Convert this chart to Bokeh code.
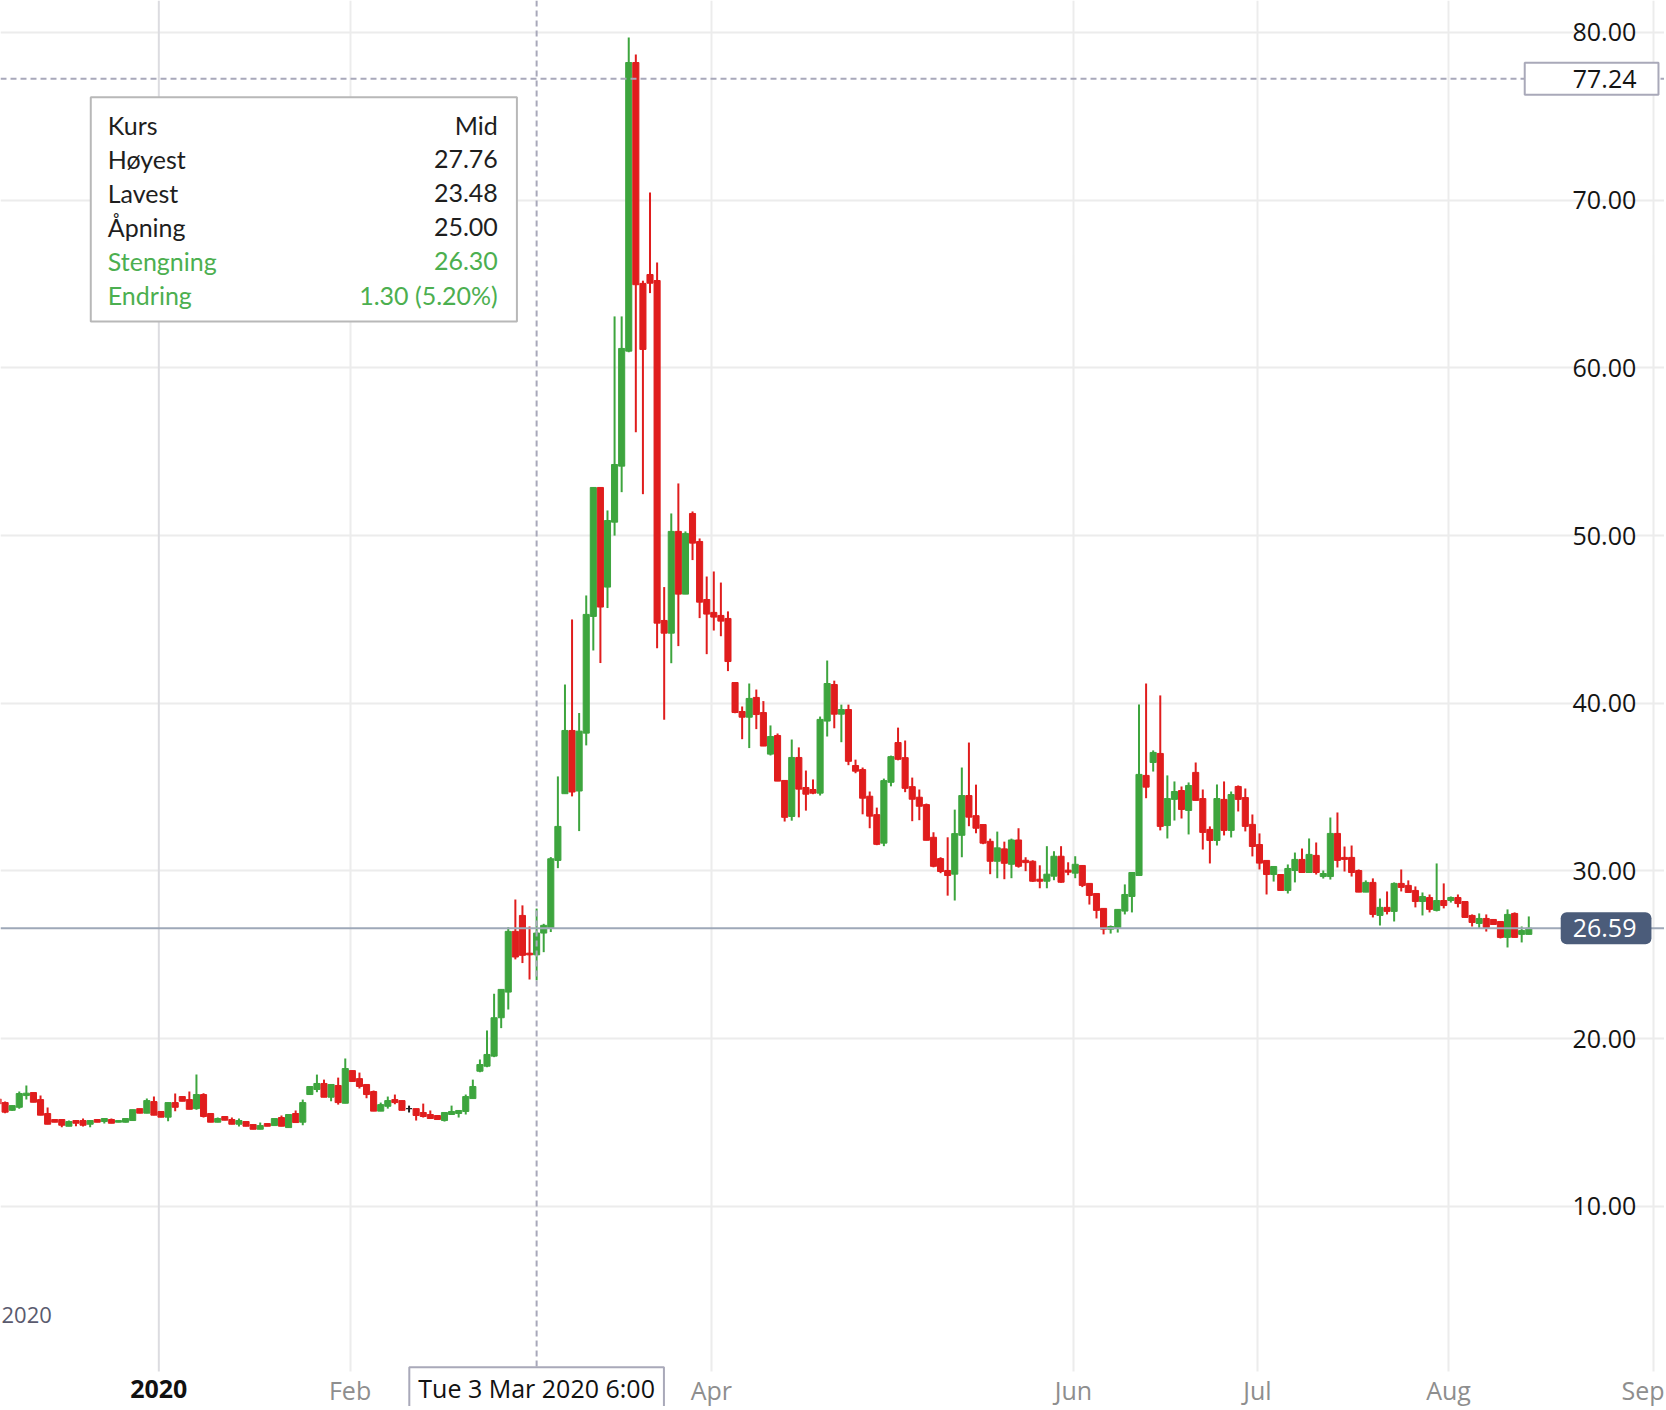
from bokeh.plotting import figure
from bokeh.models import (FixedTicker, Span, Label, LabelSet, BoxAnnotation, LinearAxis,
                          ColumnDataSource, Range1d, NumeralTickFormatter)
from bokeh.core.properties import value, field
from bokeh.embed import file_html
from bokeh.resources import INLINE

# ---------------- data (daily candles, Mid price) ----------------
opens = [16.41,
    16.19, 15.73, 15.91, 16.61, 16.79, 16.37, 15.54, 15.18, 15.18, 14.78,
    15.12, 15.12, 14.90, 15.18, 15.06, 15.18, 15.02, 15.02, 15.12, 15.83,
    15.56, 16.25, 15.66, 15.32, 16.19, 16.55, 16.37, 15.83, 16.67, 15.54,
    15.02, 15.36, 15.18, 14.90, 15.06, 14.88, 14.60, 14.94, 14.82, 15.30,
    14.70, 15.54, 15.02, 16.67, 16.97, 17.33, 16.51, 17.21, 16.15, 18.10,
    17.62, 17.27, 16.85, 15.68, 15.97, 16.37, 16.31, 15.83, 15.83, 15.60,
    15.48, 15.42, 15.12, 15.48, 15.54, 15.66, 16.43, 18.06, 18.36, 18.96,
    21.25, 22.78, 26.40, 27.35, 25.10, 25.00, 26.30, 26.60, 30.63, 34.61,
    38.38, 34.77, 38.22, 45.18, 52.87, 46.93, 50.80, 54.14, 61.00, 78.21,
    65.04, 65.57, 65.21, 44.94, 44.18, 50.25, 46.51, 51.32, 49.65, 46.19,
    45.42, 45.24, 45.06, 41.24, 39.51, 39.17, 40.35, 39.45, 36.97, 38.08,
    35.40, 33.25, 36.77, 34.98, 34.86, 34.64, 38.94, 41.12, 39.35, 39.63,
    36.29, 36.05, 34.46, 33.36, 31.66, 35.29, 37.66, 36.76, 35.03, 34.40,
    33.96, 32.01, 30.74, 30.03, 29.81, 32.13, 34.50, 33.30, 32.77, 31.77,
    30.58, 31.32, 30.40, 31.85, 30.64, 30.58, 29.51, 29.39, 29.69, 30.88,
    30.05, 29.87, 30.33, 29.26, 28.66, 27.77, 26.53, 26.61, 27.61, 28.48,
    29.73, 35.70, 36.47, 37.01, 32.71, 34.27, 34.80, 33.61, 35.88, 34.32,
    32.48, 31.82, 34.27, 32.42, 35.04, 34.38, 32.78, 31.58, 30.63, 29.79,
    29.79, 28.84, 30.03, 30.69, 29.91, 30.93, 29.67, 29.67, 32.24, 30.81,
    30.81, 30.03, 28.74, 29.32, 27.35, 27.83, 27.59, 29.26, 29.14, 28.84,
    28.18, 28.42, 27.65, 28.24, 28.24, 28.42, 28.18, 27.35, 26.87, 27.17,
    27.11, 26.99, 26.04, 27.47, 26.22, 26.22]

highs = [16.45,
    16.25, 16.01, 16.85, 17.21, 16.79, 16.61, 15.89, 15.18, 15.18, 15.12,
    15.12, 15.24, 15.12, 15.18, 15.24, 15.24, 15.12, 15.24, 15.77, 15.83,
    16.43, 16.55, 15.66, 16.19, 16.73, 16.55, 16.85, 17.86, 16.75, 15.54,
    15.30, 15.36, 15.30, 15.24, 15.06, 14.88, 15.00, 14.94, 15.24, 15.42,
    15.48, 15.72, 16.37, 17.15, 17.86, 17.56, 17.27, 17.68, 18.82, 18.10,
    17.98, 17.27, 16.91, 16.19, 16.55, 16.67, 16.31, 16.01, 15.83, 16.13,
    15.72, 15.42, 15.60, 16.01, 15.72, 16.67, 17.56, 18.76, 20.49, 22.68,
    22.94, 26.65, 28.30, 27.95, 26.69, 27.76, 26.85, 30.83, 35.64, 41.12,
    45.00, 39.42, 46.43, 52.87, 52.87, 51.50, 63.07, 63.07, 79.70, 78.69,
    65.20, 70.46, 66.29, 46.93, 51.32, 53.11, 50.25, 51.44, 49.83, 47.56,
    47.86, 47.20, 45.48, 41.24, 39.81, 41.18, 40.82, 40.13, 38.68, 38.20,
    35.40, 37.84, 37.37, 35.99, 35.46, 39.21, 42.55, 41.35, 39.92, 39.92,
    36.64, 36.17, 34.74, 33.78, 35.51, 36.88, 38.55, 37.78, 35.57, 34.86,
    34.02, 32.31, 30.82, 32.01, 33.66, 36.17, 37.66, 35.15, 32.77, 31.93,
    32.35, 31.75, 31.93, 32.55, 30.82, 30.64, 30.34, 31.48, 31.18, 31.48,
    30.52, 30.88, 30.34, 29.26, 28.66, 27.77, 26.75, 27.71, 29.20, 29.91,
    39.93, 41.18, 37.19, 40.47, 35.70, 35.34, 35.04, 35.28, 36.47, 34.86,
    32.66, 35.16, 35.34, 34.74, 35.10, 34.92, 33.37, 32.24, 30.63, 30.27,
    29.79, 30.39, 31.10, 31.34, 31.94, 31.70, 30.03, 33.19, 33.49, 31.46,
    31.52, 30.09, 29.44, 29.56, 28.36, 28.78, 29.32, 30.09, 29.44, 29.08,
    28.72, 28.60, 30.45, 29.26, 28.48, 28.60, 28.18, 27.41, 27.47, 27.41,
    27.11, 26.99, 27.71, 27.53, 26.69, 27.29]

lows = [16.05,
    15.56, 15.70, 15.83, 16.37, 16.21, 15.44, 14.90, 15.02, 14.72, 14.78,
    14.78, 14.76, 14.72, 15.02, 14.94, 14.96, 15.02, 15.00, 15.10, 15.56,
    15.56, 15.44, 15.32, 15.08, 15.68, 16.27, 15.79, 15.77, 15.30, 15.02,
    15.02, 15.14, 14.90, 14.76, 14.78, 14.60, 14.60, 14.78, 14.82, 14.78,
    14.70, 15.00, 14.84, 16.67, 16.81, 16.51, 16.27, 16.07, 16.15, 17.45,
    17.03, 16.45, 15.68, 15.68, 15.83, 16.09, 15.73, 15.60, 15.12, 15.30,
    15.24, 15.18, 15.06, 15.48, 15.30, 15.48, 16.43, 18.00, 18.30, 18.90,
    20.63, 21.74, 24.73, 24.51, 23.53, 23.48, 25.16, 26.36, 30.17, 34.61,
    34.45, 32.38, 37.49, 43.15, 42.40, 45.68, 50.00, 52.59, 60.94, 56.17,
    52.47, 64.46, 43.29, 39.02, 42.39, 43.41, 46.51, 48.54, 45.08, 42.93,
    44.34, 44.00, 41.92, 39.41, 37.86, 37.33, 38.46, 37.45, 36.89, 35.36,
    32.95, 33.00, 33.20, 33.60, 34.58, 34.50, 38.02, 38.51, 37.68, 36.31,
    35.83, 33.38, 32.55, 31.54, 31.48, 35.05, 36.60, 34.70, 32.97, 33.03,
    31.83, 30.22, 29.87, 28.53, 28.24, 30.82, 32.67, 32.25, 31.60, 29.81,
    29.57, 29.51, 29.57, 30.20, 29.99, 29.35, 28.97, 28.97, 29.45, 29.30,
    29.75, 29.57, 29.04, 28.00, 27.17, 26.22, 26.27, 26.33, 27.41, 27.53,
    29.73, 34.34, 35.93, 32.42, 31.94, 33.01, 33.13, 32.18, 34.21, 31.28,
    30.45, 31.52, 32.12, 32.00, 33.55, 32.36, 30.87, 30.09, 28.60, 29.37,
    28.84, 28.66, 29.32, 29.91, 29.91, 29.79, 29.55, 29.49, 30.21, 29.97,
    29.67, 28.74, 28.74, 27.23, 26.75, 27.41, 26.99, 28.78, 28.72, 27.83,
    27.35, 27.53, 27.59, 27.77, 28.12, 27.83, 27.23, 26.69, 26.57, 26.39,
    26.81, 25.98, 25.44, 26.04, 25.74, 26.22]

closes = [16.11,
    15.62, 16.01, 16.73, 16.75, 16.21, 15.44, 14.90, 15.02, 14.84, 15.06,
    14.96, 14.84, 15.12, 15.02, 15.24, 14.96, 15.12, 15.24, 15.77, 15.56,
    16.31, 15.44, 15.32, 16.19, 15.91, 16.27, 15.79, 16.67, 15.36, 15.02,
    15.24, 15.14, 14.90, 15.12, 14.78, 14.60, 14.82, 14.78, 15.24, 14.78,
    15.48, 15.00, 16.19, 17.15, 17.33, 16.51, 17.27, 16.19, 18.22, 17.45,
    17.15, 16.67, 15.68, 16.07, 16.31, 16.19, 15.73, 15.83, 15.42, 15.36,
    15.24, 15.18, 15.60, 15.66, 15.72, 16.55, 17.15, 18.46, 19.06, 21.25,
    22.94, 26.40, 24.87, 24.97, 25.00, 26.30, 26.76, 30.73, 32.66, 38.38,
    34.71, 38.34, 45.30, 52.87, 45.74, 50.90, 54.24, 61.16, 78.21, 64.96,
    61.10, 65.05, 44.78, 44.18, 50.25, 46.51, 50.13, 49.55, 46.03, 45.32,
    45.14, 44.90, 42.49, 39.45, 39.17, 40.29, 39.33, 37.45, 38.02, 35.36,
    33.20, 36.77, 34.88, 34.58, 34.64, 39.04, 41.18, 39.35, 39.63, 36.54,
    35.95, 34.34, 33.27, 31.59, 35.39, 36.82, 36.66, 34.93, 34.28, 33.86,
    31.83, 30.28, 29.97, 29.73, 32.23, 34.50, 33.21, 32.55, 31.66, 30.58,
    31.38, 30.46, 31.85, 30.28, 30.50, 29.39, 29.39, 29.81, 30.88, 29.33,
    29.93, 30.40, 29.14, 28.54, 27.65, 26.53, 26.69, 27.71, 28.60, 29.91,
    35.76, 35.00, 37.07, 32.66, 34.32, 34.74, 33.67, 35.10, 34.21, 32.30,
    31.82, 34.32, 32.42, 34.56, 34.27, 32.66, 31.46, 30.47, 29.79, 30.27,
    28.84, 30.15, 30.69, 29.91, 30.99, 29.91, 29.85, 32.24, 30.63, 30.69,
    29.91, 28.74, 29.32, 27.41, 27.83, 27.59, 29.26, 29.02, 28.72, 28.18,
    28.48, 27.71, 28.24, 27.94, 28.42, 28.06, 27.23, 26.93, 27.17, 26.63,
    26.81, 26.04, 27.41, 26.04, 26.45, 26.59]

# month ticks (position on the trading-day axis) and labels
year_tick_pos = [22.69]
year_tick_labels = ["2020"]
x_tick_pos = [49.68, 100.65, 151.75, 177.72, 204.67, 233.59]
x_tick_labels = ["Feb", "Apr", "Jun", "Jul", "Aug", "Sep"]
y_ticks = [10, 20, 30, 40, 50, 60, 70, 80]

cursor_index = 76                # Tue 3 Mar 2020
cursor_label = "Tue 3 Mar 2020 6:00"
cursor_price = 77.24

tooltip_names = ["Kurs", "Høyest", "Lavest", "Åpning", "Stengning", "Endring"]

# ---------------- chart ----------------
UP, DOWN, FLAT = "#3da53e", "#e01d1d", "#222222"
N = len(opens)
xs = list(range(N))
colors = [UP if c > o else (DOWN if c < o else FLAT) for o, c in zip(opens, closes)]
src = ColumnDataSource(dict(
    x=xs, o=opens, h=highs, l=lows, c=closes,
    top=[max(o, c) for o, c in zip(opens, closes)],
    bottom=[min(o, c) for o, c in zip(opens, closes)],
    color=colors))

AXIS_Y = 0.157      # price level where the time axis sits (bottom of plotting area)
AXIS_X = 221.18     # x position where the price axis sits

p = figure(frame_width=1664, frame_height=1406,
           x_range=Range1d(0.351, 235.15), y_range=Range1d(-1.932, 81.908),
           y_axis_location="right", output_backend="svg", toolbar_location=None,
           min_border=0, min_border_left=0, min_border_top=0,
           min_border_right=0, min_border_bottom=0,
           background_fill_color="white", border_fill_color="white",
           outline_line_color=None)

# price axis (drawn inside the plot, on the right)
p.yaxis.fixed_location = AXIS_X
p.yaxis.ticker = FixedTicker(ticks=y_ticks)
p.yaxis.formatter = NumeralTickFormatter(format="0.00")
p.yaxis.major_label_text_font = "Open Sans"
p.yaxis.major_label_text_font_size = "25px"
p.yaxis.major_label_text_color = "#141414"
p.yaxis.major_label_standoff = 7

# time axis
p.xaxis.fixed_location = AXIS_Y
p.xaxis.ticker = FixedTicker(ticks=x_tick_pos)
p.xaxis.major_label_overrides = {pos: lab for pos, lab in zip(x_tick_pos, x_tick_labels)}
p.xaxis.major_label_text_font = "Open Sans"
p.xaxis.major_label_text_font_size = "25px"
p.xaxis.major_label_text_color = "#8e8e8e"
p.xaxis.major_label_standoff = 2

year_axis = LinearAxis(fixed_location=AXIS_Y, ticker=FixedTicker(ticks=year_tick_pos),
                       major_label_overrides={pos: lab for pos, lab in zip(year_tick_pos, year_tick_labels)},
                       major_label_text_font="Open Sans", major_label_text_font_size="25px",
                       major_label_text_color="#111111", major_label_text_font_style="bold",
                       major_label_standoff=9)
p.add_layout(year_axis, "below")

for ax in (p.xaxis[0], p.yaxis[0], year_axis):
    ax.axis_line_color = None
    ax.major_tick_line_color = None
    ax.minor_tick_line_color = None
    ax.major_tick_out = 0
    ax.major_tick_in = 0

p.grid.grid_line_color = "#ececec"
p.grid.grid_line_width = 2
p.add_layout(Span(location=year_tick_pos[0], dimension="height", line_color="#dcdce0",
                  line_width=2, level="underlay"))
# keep the time-axis strip free of grid lines
p.add_layout(BoxAnnotation(left=-50, right=300, bottom=-10, top=AXIS_Y,
                           fill_color="white", fill_alpha=1.0, line_alpha=0,
                           level="underlay"))

# candles
p.segment(x0="x", y0="l", x1="x", y1="h", line_color="color", line_width=2, source=src)
p.vbar(x="x", width=0.86, top="top", bottom="bottom", fill_color="color",
       line_color="color", line_width=1, source=src)

# last price line
p.add_layout(Span(location=closes[-1], dimension="width", line_color="#9ea8b8", line_width=2))
# crosshair
p.add_layout(Span(location=cursor_index, dimension="height", line_color="#a8a8ba",
                  line_width=2, line_dash="6 4"))
p.add_layout(Span(location=cursor_price, dimension="width", line_color="#a8a8ba",
                  line_width=2, line_dash="6 4"))

# tooltip box
p.add_layout(BoxAnnotation(left=13.09, right=73.22, bottom=62.77, top=76.14,
                           fill_color="white", fill_alpha=1.0,
                           line_color="#b8b8b8", line_width=2, line_alpha=1.0))
k = cursor_index
chg = closes[k] - opens[k]
vals = ["Mid", f"{highs[k]:.2f}", f"{lows[k]:.2f}", f"{opens[k]:.2f}",
        f"{closes[k]:.2f}", f"{chg:.2f} ({chg / opens[k] * 100:.2f}%)"]
chg_col = "#4caf50" if chg >= 0 else "#e01d1d"
row_y = [74.50, 72.47, 70.44, 68.41, 66.39, 64.36]
row_col = ["#1e1e1e"] * 4 + [chg_col] * 2
tsrc = ColumnDataSource(dict(xl=[15.49] * 6, xr=[70.52] * 6, y=row_y,
                             name=tooltip_names, val=vals, col=row_col))
p.add_layout(LabelSet(x="xl", y="y", text="name", source=tsrc, text_align="left",
                      text_baseline="middle", text_font=value("Lato"),
                      text_font_size=value("25px"), text_color=field("col")))
p.add_layout(LabelSet(x="xr", y="y", text="val", source=tsrc, text_align="right",
                      text_baseline="middle", text_font=value("Lato"),
                      text_font_size=value("25px"), text_color=field("col")))

# price badges on the right (anchor = right edge of the badge)
p.add_layout(Label(x=234.3, y=cursor_price, text=f"{cursor_price:.2f}", text_align="right",
                   text_baseline="middle", text_font="Open Sans", text_font_size="25px",
                   text_color="#141414", background_fill_color="white",
                   border_line_color="#a9a9b9", border_line_width=2,
                   padding=dict(left=48, right=22, top=7, bottom=7)))
p.add_layout(Label(x=233.31, y=closes[-1], text=f"{closes[-1]:.2f}", text_align="right",
                   text_baseline="middle", text_font="Open Sans", text_font_size="25px",
                   text_color="white", background_fill_color="#4b5c7a", border_radius=6,
                   padding=dict(left=12, right=15, top=7, bottom=7)))

# date badge on the time axis
p.add_layout(Label(x=cursor_index, y=-0.90, text=cursor_label, text_align="center",
                   text_baseline="middle", text_font="Open Sans", text_font_size="25px",
                   text_color="#111111", background_fill_color="white",
                   border_line_color="#a9a9b9", border_line_width=2,
                   padding=dict(left=9, right=9, top=4, bottom=6)))
p.add_layout(Label(x=0.49, y=3.55, text="2020", text_align="left",
                   text_baseline="middle", text_font="Open Sans", text_font_size="22px",
                   text_color="#5a5a6e"))

open("out.html", "w").write(file_html(p, INLINE))
